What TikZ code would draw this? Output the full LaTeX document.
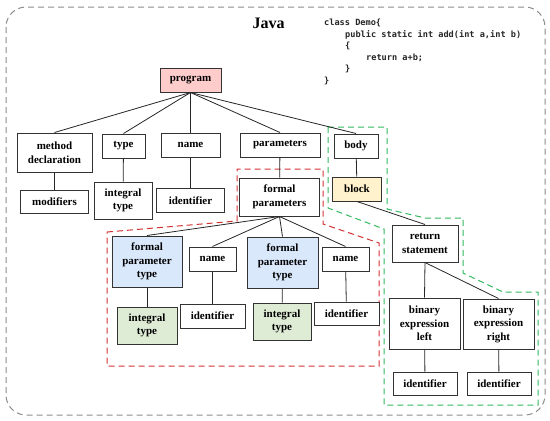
\documentclass[tikz,border=0pt]{standalone}
\usepackage{fontspec}
\setmainfont{Liberation Serif}
\setmonofont{DejaVu Sans Mono}
\definecolor{progfill}{RGB}{255,204,204}
\definecolor{blockfill}{RGB}{255,242,204}
\definecolor{fptfill}{RGB}{218,232,252}
\definecolor{typefill}{RGB}{222,236,214}
\definecolor{zonegray}{RGB}{140,140,140}
\definecolor{zonered}{RGB}{210,50,50}
\definecolor{zonegreen}{RGB}{50,185,95}
\begin{document}
\begin{tikzpicture}[
        x=1pt,y=-1pt,
        box/.style={draw=black!80,line width=1pt,fill=white,align=center,inner sep=0pt,
          font=\bfseries\fontsize{11}{13.5}\selectfont},
        sz/.style 2 args={minimum width=#1pt,minimum height=#2pt},
        link/.style={draw=black!85,line width=0.8pt},
        zone/.style={line width=1pt,dash pattern=on 6pt off 4pt}]
        % 画布范围
        \useasboundingbox (0,0) rectangle (550,421);
        % 外框
        \draw[zone,zonegray,rounded corners=20pt] (6,7) rectangle (545,415);
        % 标题与代码
        \node[font=\bfseries\fontsize{16}{18}\selectfont] (title) at (268.5,23) {Java};
        \node[anchor=north west,inner sep=0pt,align=left,text=black!85,
          font=\ttfamily\bfseries\fontsize{8.6}{11.5}\selectfont] (code) at (324,19)
          {class Demo\{\\
           \hspace*{21pt}public static int add(int a,int b)\\
           \hspace*{21pt}\{\\
           \hspace*{42pt}return a+b;\\
           \hspace*{21pt}\}\\
           \}};
        % 虚线区域
        \draw[zone,zonered] (107,232) -- (237,221) -- (237,169) -- (323,169)
          -- (323,224) -- (379,243) -- (379,366) -- (107,366) -- cycle;
        \draw[zone,zonegreen] (328,127) -- (387,127) -- (387,209) -- (425,218)
          -- (463,218) -- (463,273) -- (503,292) -- (538,292) -- (538,405)
          -- (384,405) -- (384,229) -- (328,208) -- cycle;
        % 第一层
        \node[box,sz={61}{24},fill=progfill] (prog) at (190.5,80) {program};
        % 第二层
        \node[box,sz={75}{39}] (md) at (54.5,152.5) {method\\declaration};
        \node[box,sz={43}{24}] (type) at (123.5,146) {type};
        \node[box,sz={59}{24}] (name) at (190.5,145) {name};
        \node[box,sz={80}{24}] (par) at (280,145) {parameters};
        \node[box,sz={44}{24}] (body) at (356,146) {body};
        % 第三层
        \node[box,sz={68}{23}] (mod) at (54.5,201.5) {modifiers};
        \node[box,sz={58}{37}] (itype) at (123,200.5) {integral\\type};
        \node[box,sz={68}{24}] (ident) at (190.5,200.5) {identifier};
        \node[box,sz={80}{38}] (fpar) at (279.5,197) {formal\\parameters};
        \node[box,sz={49}{24},fill=blockfill] (block) at (357,189) {block};
        % 形参部分
        \node[box,sz={70}{51},fill=fptfill] (fptA) at (147,261.5) {formal\\parameter\\type};
        \node[box,sz={47}{24}] (nameA) at (212.5,259) {name};
        \node[box,sz={71}{51},fill=fptfill] (fptB) at (282.5,262.5) {formal\\parameter\\type};
        \node[box,sz={47}{24}] (nameB) at (345.5,259) {name};
        \node[box,sz={60}{37},fill=typefill] (itypeA) at (147,325.5) {integral\\type};
        \node[box,sz={65}{24}] (identA) at (212.5,316) {identifier};
        \node[box,sz={58}{37},fill=typefill] (itypeB) at (282,321.5) {integral\\type};
        \node[box,sz={65}{23}] (identB) at (346.5,313.5) {identifier};
        % 返回语句部分
        \node[box,sz={66}{37}] (ret) at (425,243.5) {return\\statement};
        \node[box,sz={71}{51}] (bel) at (424.5,323.5) {binary\\expression\\left};
        \node[box,sz={71}{50}] (ber) at (498.5,324) {binary\\expression\\right};
        \node[box,sz={64}{23}] (idl) at (425,383.5) {identifier};
        \node[box,sz={64}{23}] (idr) at (499,383.5) {identifier};
        % 连线
        \foreach \c in {md,type,name,par,body}
          \draw[link] (prog.south) -- (\c.north);
        \draw[link] (md) -- (mod);
        \draw[link] (type) -- (itype);
        \draw[link] (name) -- (ident);
        \draw[link] (par) -- (fpar);
        \draw[link] (body) -- (block);
        \foreach \c in {fptA,nameA,fptB,nameB}
          \draw[link] (fpar.south) -- (\c.north);
        \draw[link] (fptA) -- (itypeA);
        \draw[link] (nameA) -- (identA);
        \draw[link] (fptB) -- (itypeB);
        \draw[link] (nameB) -- (identB);
        \draw[link] (block.south) -- (ret.north);
        \draw[link] (ret.south) -- (bel.north);
        \draw[link] (ret.south) -- (ber.north);
        \draw[link] (bel) -- (idl);
        \draw[link] (ber) -- (idr);
      \end{tikzpicture}
\end{document}
